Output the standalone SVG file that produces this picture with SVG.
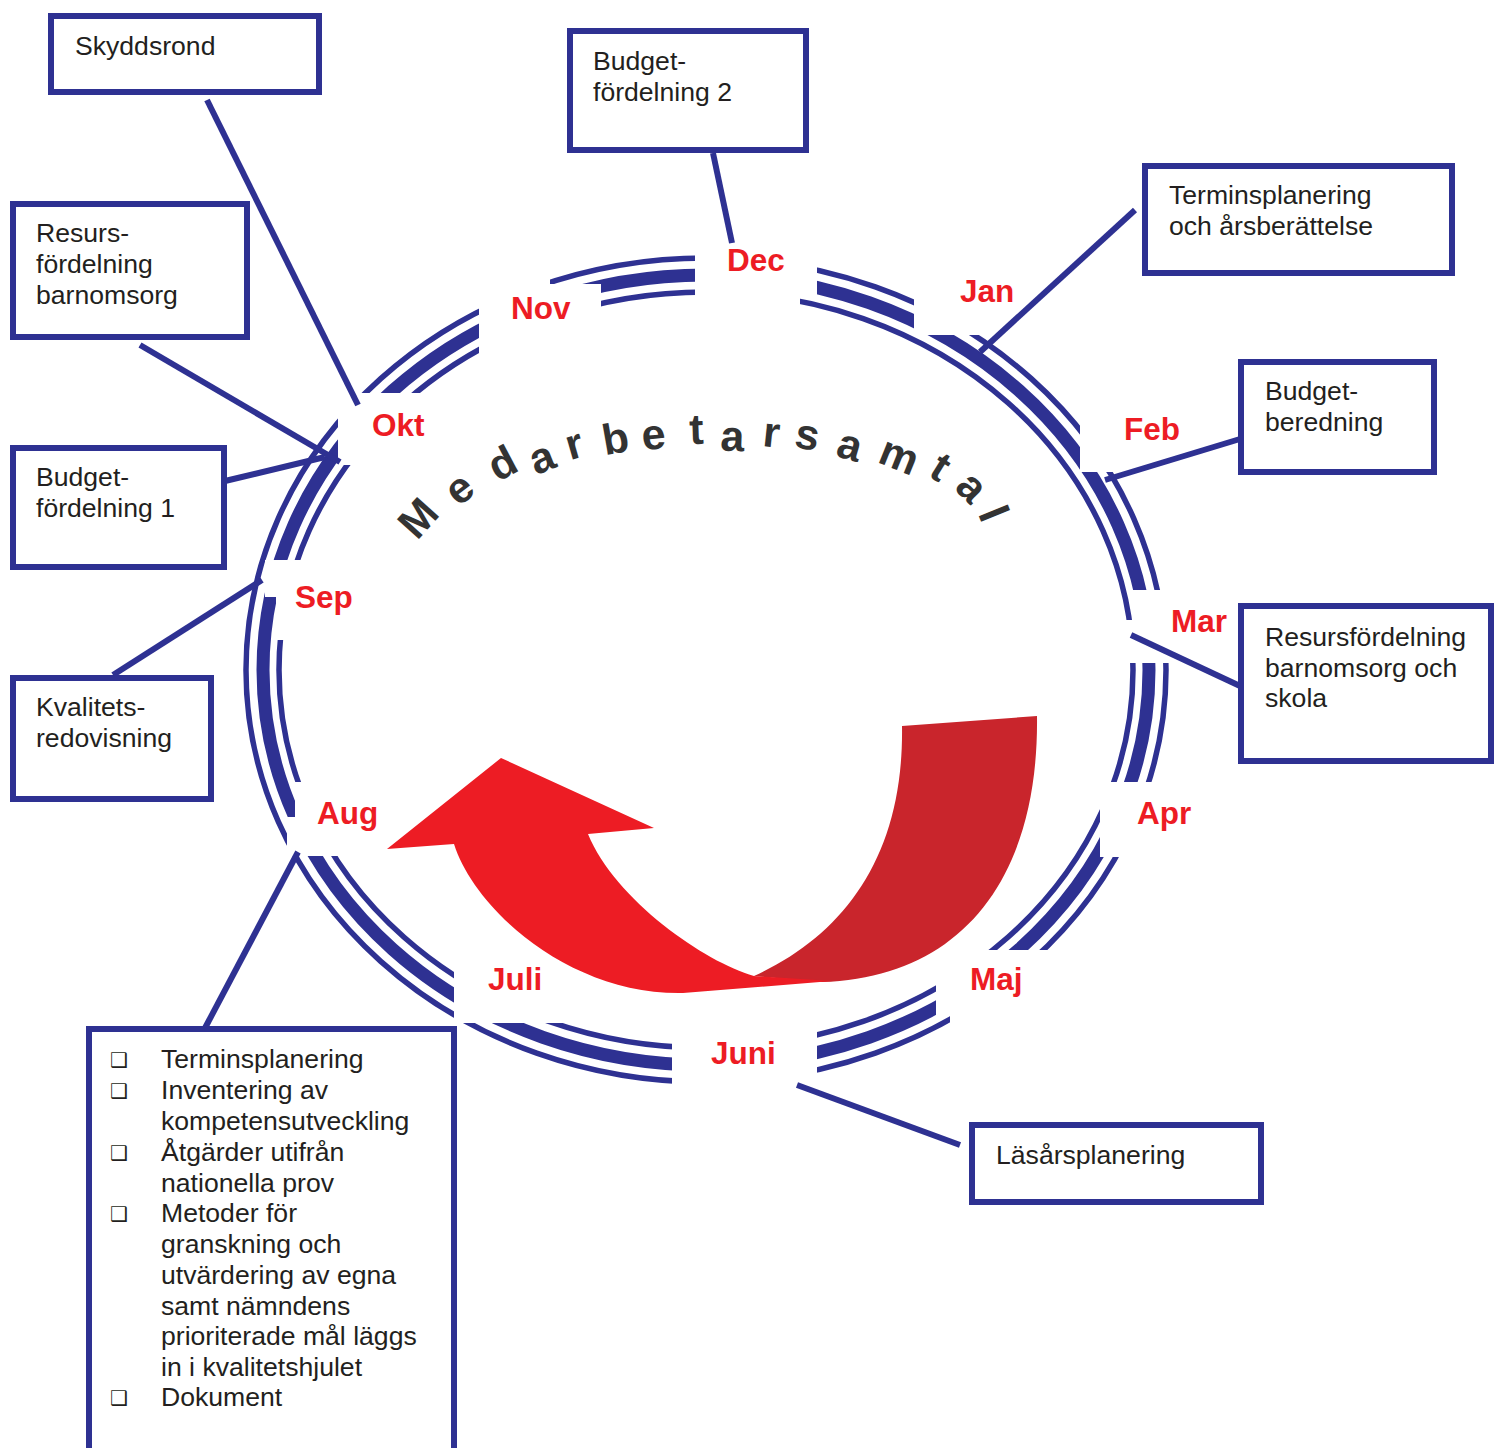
<svg xmlns="http://www.w3.org/2000/svg" width="1503" height="1448" viewBox="0 0 1503 1448">
<defs>
<style>
.ring{fill:none;stroke:#2e3192}
.mask{fill:#ffffff;stroke:none}
.conn{stroke:#2e3192;stroke-width:6;fill:none}
.box{fill:#ffffff;stroke:#2e3192;stroke-width:6}
.bt{font-family:"Liberation Sans",Arial,sans-serif;font-size:26.6px;fill:#231f20}
.mon{font-family:"Liberation Sans",Arial,sans-serif;font-size:31.5px;font-weight:bold;fill:#ed1c24}
.bul{font-family:"DejaVu Sans",sans-serif;font-size:20px;fill:#231f20}
.arc{font-family:"Liberation Sans",Arial,sans-serif;font-size:43px;font-weight:bold;fill:#333333;text-anchor:middle}
</style>
</defs>
<rect width="1503" height="1448" fill="#ffffff"/>

<g id="ring">
<ellipse class="ring" cx="706" cy="670" rx="460" ry="412" stroke-width="5.5"/>
<ellipse class="ring" cx="706" cy="670" rx="443" ry="395" stroke-width="13"/>
<ellipse class="ring" cx="706" cy="670" rx="427" ry="378" stroke-width="5.5"/>
</g>

<g id="ring-gaps">
<polygon class="mask" points="695,230 817,230 817,297 800,297 800,315 695,315"/>
<rect class="mask" x="914" y="250" width="126" height="85"/>
<rect class="mask" x="1080" y="395" width="160" height="77"/>
<polygon class="mask" points="1132,590 1240,590 1240,663 1120,663 1120,620 1132,620"/>
<rect class="mask" x="1100" y="782" width="110" height="75"/>
<polygon class="mask" points="936,950 1070,950 1070,1035 950,1035 950,1016 936,1016"/>
<rect class="mask" x="672" y="1025" width="145" height="75"/>
<rect class="mask" x="454" y="930" width="196" height="93"/>
<polygon class="mask" points="295,782 420,782 420,856 287,856 287,817 295,817"/>
<polygon class="mask" points="265,560 360,560 360,640 276,640 276,597 265,597"/>
<rect class="mask" x="338" y="393" width="112" height="72"/>
<polygon class="mask" points="479,250 550,250 550,284 601,284 601,365 479,365"/>
</g>

<g id="connectors">
<line class="conn" x1="207" y1="100" x2="358" y2="405"/>
<line class="conn" x1="713" y1="153" x2="732" y2="243"/>
<line class="conn" x1="1135" y1="210" x2="980" y2="352"/>
<line class="conn" x1="140" y1="345" x2="340" y2="462"/>
<line class="conn" x1="225" y1="481" x2="325" y2="457"/>
<line class="conn" x1="113" y1="675" x2="262" y2="580"/>
<line class="conn" x1="205" y1="1028" x2="298" y2="852"/>
<line class="conn" x1="1240" y1="439" x2="1105" y2="480"/>
<line class="conn" x1="1240" y1="686" x2="1131" y2="635"/>
<line class="conn" x1="960" y1="1145" x2="797" y2="1085"/>
</g>

<g id="node-skyddsrond">
<rect class="box" x="51" y="16" width="268" height="76"/>
<text class="bt" x="75" y="55">Skyddsrond</text>
</g>
<g id="node-budget2">
<rect class="box" x="570" y="31" width="236" height="119"/>
<text class="bt" x="593" y="70">Budget-</text>
<text class="bt" x="593" y="101">fördelning 2</text>
</g>
<g id="node-terminsplanering">
<rect class="box" x="1145" y="166" width="307" height="107"/>
<text class="bt" x="1169" y="204">Terminsplanering</text>
<text class="bt" x="1169" y="235">och årsberättelse</text>
</g>
<g id="node-resurs-barnomsorg">
<rect class="box" x="13" y="204" width="234" height="133"/>
<text class="bt" x="36" y="242">Resurs-</text>
<text class="bt" x="36" y="273">fördelning</text>
<text class="bt" x="36" y="304">barnomsorg</text>
</g>
<g id="node-budget1">
<rect class="box" x="13" y="448" width="211" height="119"/>
<text class="bt" x="36" y="486">Budget-</text>
<text class="bt" x="36" y="517">fördelning 1</text>
</g>
<g id="node-kvalitet">
<rect class="box" x="13" y="678" width="198" height="121"/>
<text class="bt" x="36" y="716">Kvalitets-</text>
<text class="bt" x="36" y="747">redovisning</text>
</g>
<g id="node-budgetberedning">
<rect class="box" x="1241" y="362" width="193" height="110"/>
<text class="bt" x="1265" y="400">Budget-</text>
<text class="bt" x="1265" y="431">beredning</text>
</g>
<g id="node-resurs-skola">
<rect class="box" x="1241" y="606" width="250" height="155"/>
<text class="bt" x="1265" y="646">Resursfördelning</text>
<text class="bt" x="1265" y="677">barnomsorg och</text>
<text class="bt" x="1265" y="707">skola</text>
</g>
<g id="node-lasar">
<rect class="box" x="972" y="1125" width="289" height="77"/>
<text class="bt" x="996" y="1164">Läsårsplanering</text>
</g>
<g id="node-list">
<rect class="box" x="89" y="1029" width="365" height="430"/>
<text class="bul" x="110" y="1067">❑</text>
<text class="bul" x="110" y="1098">❑</text>
<text class="bul" x="110" y="1160">❑</text>
<text class="bul" x="110" y="1221">❑</text>
<text class="bul" x="110" y="1405">❑</text>
<text class="bt" x="161" y="1068">Terminsplanering</text>
<text class="bt" x="161" y="1099">Inventering av</text>
<text class="bt" x="161" y="1130">kompetensutveckling</text>
<text class="bt" x="161" y="1161">Åtgärder utifrån</text>
<text class="bt" x="161" y="1192">nationella prov</text>
<text class="bt" x="161" y="1222">Metoder för</text>
<text class="bt" x="161" y="1253">granskning och</text>
<text class="bt" x="161" y="1284">utvärdering av egna</text>
<text class="bt" x="161" y="1315">samt nämndens</text>
<text class="bt" x="161" y="1345">prioriterade mål läggs</text>
<text class="bt" x="161" y="1376">in i kvalitetshjulet</text>
<text class="bt" x="161" y="1406">Dokument</text>
</g>

<g id="months">
<text class="mon" x="727" y="271">Dec</text>
<text class="mon" x="960" y="302">Jan</text>
<text class="mon" x="1124" y="440">Feb</text>
<text class="mon" x="1171" y="632">Mar</text>
<text class="mon" x="1137" y="824">Apr</text>
<text class="mon" x="970" y="990">Maj</text>
<text class="mon" x="711" y="1064">Juni</text>
<text class="mon" x="488" y="990">Juli</text>
<text class="mon" x="317" y="824">Aug</text>
<text class="mon" x="295" y="608">Sep</text>
<text class="mon" x="372" y="436">Okt</text>
<text class="mon" x="511" y="319">Nov</text>
</g>

<g id="cycle-arrow">
<path d="M 902,726 L 1037,716 C 1039,880 960,978 822,982 L 754,976 C 844,935 904,856 902,726 Z" fill="#c9252c"/>
<path d="M 754,976 C 705,962 615,900 588,834 L 654,828 L 501,758 L 387,849 L 454,844 C 475,910 570,995 683,993 L 832,981 Z" fill="#ed1c24"/>
</g>

<g id="title">
<text class="arc" x="429" y="528" transform="rotate(-48 429 528)">M</text>
<text class="arc" x="468" y="500" transform="rotate(-38 468 500)">e</text>
<text class="arc" x="509" y="476" transform="rotate(-28 509 476)">d</text>
<text class="arc" x="547" y="471" transform="rotate(-22 547 471)">a</text>
<text class="arc" x="578" y="458" transform="rotate(-16 578 458)">r</text>
<text class="arc" x="618" y="453" transform="rotate(-10 618 453)">b</text>
<text class="arc" x="655" y="449" transform="rotate(-6 655 449)">e</text>
<text class="arc" x="697" y="444" transform="rotate(-2 697 444)">t</text>
<text class="arc" x="732" y="451" transform="rotate(2 732 451)">a</text>
<text class="arc" x="770" y="447" transform="rotate(6 770 447)">r</text>
<text class="arc" x="805" y="449" transform="rotate(10 805 449)">s</text>
<text class="arc" x="846" y="459" transform="rotate(16 846 459)">a</text>
<text class="arc" x="894" y="469" transform="rotate(22 894 469)">m</text>
<text class="arc" x="933" y="479" transform="rotate(32 933 479)">t</text>
<text class="arc" x="962" y="497" transform="rotate(45 962 497)">a</text>
<text class="arc" x="980" y="519" transform="rotate(68 980 519)">l</text>
</g>
</svg>
